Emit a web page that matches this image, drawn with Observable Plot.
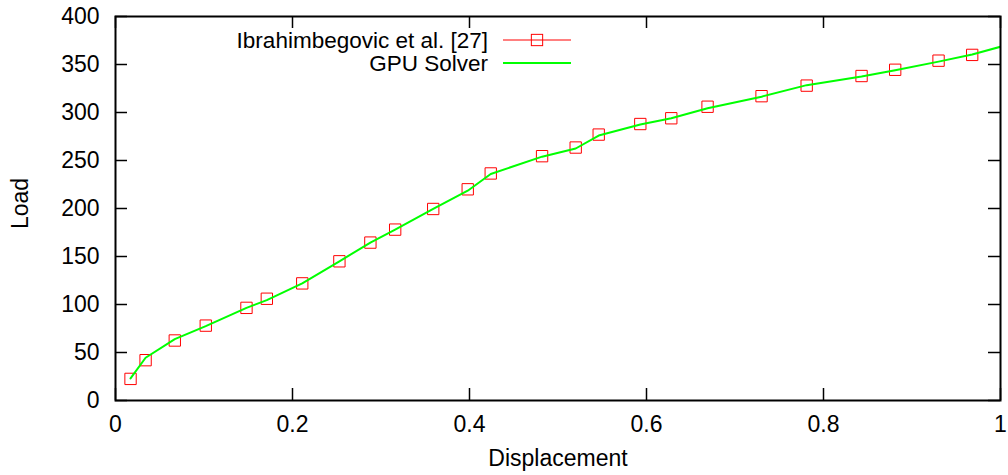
<!DOCTYPE html>
<html>
<head>
<meta charset="utf-8">
<script src="https://cdn.jsdelivr.net/npm/d3@7"></script>
<script src="https://cdn.jsdelivr.net/npm/@observablehq/plot@0.6"></script>
<style>
  html, body { margin: 0; padding: 0; background: #fff; }
  #chart svg { display: block; font-family: "Liberation Sans", Arial, sans-serif; }
</style>
</head>
<body>
<div id="chart"></div>
<script>
// Reference data (Ibrahimbegovic et al. [27]) — square markers
const refDisp = [0.017, 0.034, 0.067, 0.102, 0.148, 0.171, 0.211, 0.253, 0.288, 0.316, 0.359, 0.398, 0.424, 0.482, 0.520, 0.546, 0.593, 0.628, 0.669, 0.730, 0.781, 0.843, 0.881, 0.930, 0.968];
const refLoad = [22.5, 42, 62.5, 78, 96.5, 106, 122, 145, 164.5, 178, 199.5, 220, 236.5, 254.5, 263.5, 277, 288, 294, 306, 317, 328, 338, 344.5, 354, 360];

// GPU Solver line
const gpuDisp = [0.017, 0.034, 0.067, 0.102, 0.148, 0.171, 0.211, 0.253, 0.288, 0.316, 0.359, 0.398, 0.424, 0.482, 0.520, 0.546, 0.593, 0.628, 0.669, 0.730, 0.781, 0.843, 0.881, 0.930, 0.968, 1.0];
const gpuLoad = [23, 44.5, 64, 77.5, 96.5, 104.5, 122, 145, 164.5, 178, 199.5, 218.5, 236, 254, 262.5, 276, 287.5, 294, 304.5, 316.5, 328.5, 337.5, 344, 353, 360.5, 368.5];

// Axis ticks
const xTicks = [0, 0.2, 0.4, 0.6, 0.8, 1];
const yTicks = [0, 50, 100, 150, 200, 250, 300, 350, 400];
const xTickLabels = ["0", "0.2", "0.4", "0.6", "0.8", "1"];

const seriesNames = ["Ibrahimbegovic et al. [27]", "GPU Solver"];
const xTitle = "Displacement";
const yTitle = "Load";

const refData = refDisp.map((d, i) => ({x: d, y: refLoad[i]}));
const gpuData = gpuDisp.map((d, i) => ({x: d, y: gpuLoad[i]}));

const W = 1008, H = 475;
const mL = 115, mR = 8, mT = 16, mB = 75;
const pw = W - mL - mR, ph = H - mT - mB;
const TL = 12; // tick length
const FS = 23;

const plot = Plot.plot({
  width: W,
  height: H,
  marginLeft: mL,
  marginRight: mR,
  marginTop: mT,
  marginBottom: mB,
  style: {fontFamily: "'Liberation Sans', Arial, sans-serif", fontSize: FS + "px", color: "#000", background: "#fff", overflow: "visible"},
  x: {domain: [0, 1]},
  y: {domain: [0, 400]},
  marks: [
    Plot.axisX(xTicks, {tickSize: 0, tickPadding: 15, tickFormat: (d, i) => xTickLabels[i], fontSize: FS, label: null, fill: "#000"}),
    Plot.axisY(yTicks, {tickSize: 0, tickPadding: 16, fontSize: FS, label: null, fill: "#000"}),
    // inward ticks on all four sides
    Plot.tickX(xTicks, {x: d => d, stroke: "#000", strokeWidth: 1.5, insetTop: ph - TL}),
    Plot.tickX(xTicks, {x: d => d, stroke: "#000", strokeWidth: 1.5, insetBottom: ph - TL}),
    Plot.tickY(yTicks, {y: d => d, stroke: "#000", strokeWidth: 1.5, insetRight: pw - TL}),
    Plot.tickY(yTicks, {y: d => d, stroke: "#000", strokeWidth: 1.5, insetLeft: pw - TL}),
    Plot.dot(refData, {x: "x", y: "y", symbol: "square", r: 6.4, stroke: "#ff0000", strokeWidth: 1, fill: "none"}),
    Plot.line(gpuData, {x: "x", y: "y", stroke: "#00ff00", strokeWidth: 2, clip: true}),
    Plot.frame({stroke: "#000", strokeWidth: 2}),
    Plot.text([xTitle], {frameAnchor: "bottom", dy: 65, fontSize: FS, fill: "#000", textAnchor: "middle"}),
    Plot.text([yTitle], {frameAnchor: "left", dx: -95, dy: -5, rotate: -90, fontSize: FS, fill: "#000", textAnchor: "middle"})
  ]
});

document.getElementById("chart").appendChild(plot);

// Legend (inside plot area, top)
const LFS = 22.5;
const svg = d3.select(plot);
const lg = svg.append("g").attr("font-family", "'Liberation Sans', Arial, sans-serif").attr("font-size", LFS);
const rows = [
  {name: seriesNames[0], y: 40, color: "#ff0000", sw: 1, marker: true},
  {name: seriesNames[1], y: 63, color: "#00ff00", sw: 2, marker: false}
];
rows.forEach(r => {
  lg.append("text").attr("x", 488).attr("y", r.y).attr("dy", "0.35em").attr("text-anchor", "end").attr("fill", "#000").text(r.name);
  lg.append("line").attr("x1", 503).attr("x2", 571).attr("y1", r.y).attr("y2", r.y).attr("stroke", r.color).attr("stroke-width", r.sw);
  if (r.marker) {
    const s = 11.3;
    lg.append("rect").attr("x", 537 - s / 2).attr("y", r.y - s / 2).attr("width", s).attr("height", s).attr("fill", "none").attr("stroke", r.color).attr("stroke-width", 1);
  }
});
</script>
</body>
</html>
